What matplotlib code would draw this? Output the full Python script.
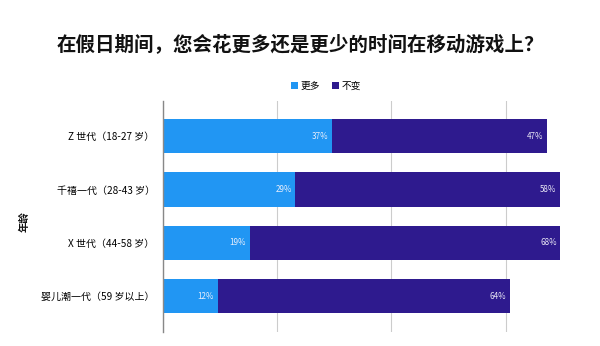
import matplotlib
matplotlib.use("Agg")
import matplotlib.pyplot as plt
import numpy as np

plt.rcParams['font.family'] = ['Noto Sans CJK SC', 'DejaVu Sans']

# survey data
groups = ['Z 世代（18-27 岁）', '千禧一代（28-43 岁）', 'X 世代（44-58 岁）', '婴儿潮一代（59 岁以上）']
more = [37, 29, 19, 12]
same = [47, 58, 68, 64]
series_names = ['更多', '不变']
ticks = [0, 25, 50, 75]

c_more = '#2196F3'
c_same = '#2E1A8E'

fig = plt.figure(figsize=(6, 3.46), dpi=100)
ax = fig.add_axes([163 / 600, 14 / 346, 427 / 600, 231 / 346])

y = np.arange(len(groups))
h = 0.64
b1 = ax.barh(y, more, height=h, color=c_more, label=series_names[0], zorder=3)
b2 = ax.barh(y, same, left=more, height=h, color=c_same, label=series_names[1], zorder=3)

# value labels at the right end of each segment
for i in range(len(groups)):
    ax.text(more[i] - 0.8, y[i], f'{more[i]}%', ha='right', va='center',
            color='#e8eefc', fontsize=5.8, zorder=4)
    ax.text(more[i] + same[i] - 0.8, y[i], f'{same[i]}%', ha='right', va='center',
            color='#e8e6f4', fontsize=5.8, zorder=4)

ax.set_xlim(0, 93.5)
ax.set_ylim(len(groups) - 1 + 0.67, -0.66)
ax.set_xticks(ticks)
ax.set_xticklabels([])
ax.tick_params(axis='x', length=0)
ax.grid(axis='x', color='#cccccc', linewidth=0.8, zorder=0)
ax.set_yticks(y)
ax.set_yticklabels(groups, fontsize=7.2, color='#000000', fontweight='medium')
ax.tick_params(axis='y', length=0, pad=6)
for s in ['top', 'right', 'bottom']:
    ax.spines[s].set_visible(False)
ax.spines['left'].set_color('#888888')
ax.spines['left'].set_linewidth(1.0)
ax.spines['left'].set_zorder(5)

fig.text(24 / 600, 1 - 222 / 346, '年龄', rotation=90, ha='center', va='center',
         fontsize=7.5, fontweight='bold', color='#111111')

fig.text(0.5, 1 - 44 / 346, '在假日期间，您会花更多还是更少的时间在移动游戏上？',
         ha='center', va='center', fontsize=14, fontweight='bold', color='#111111')

fig.legend(handles=[b1, b2], loc='center', bbox_to_anchor=(326 / 600, 1 - 86 / 346),
           ncol=2, frameon=False, fontsize=7, handlelength=0.7, handleheight=0.7,
           handletextpad=0.3, columnspacing=1.2)

fig.savefig('out.png', dpi=100)
